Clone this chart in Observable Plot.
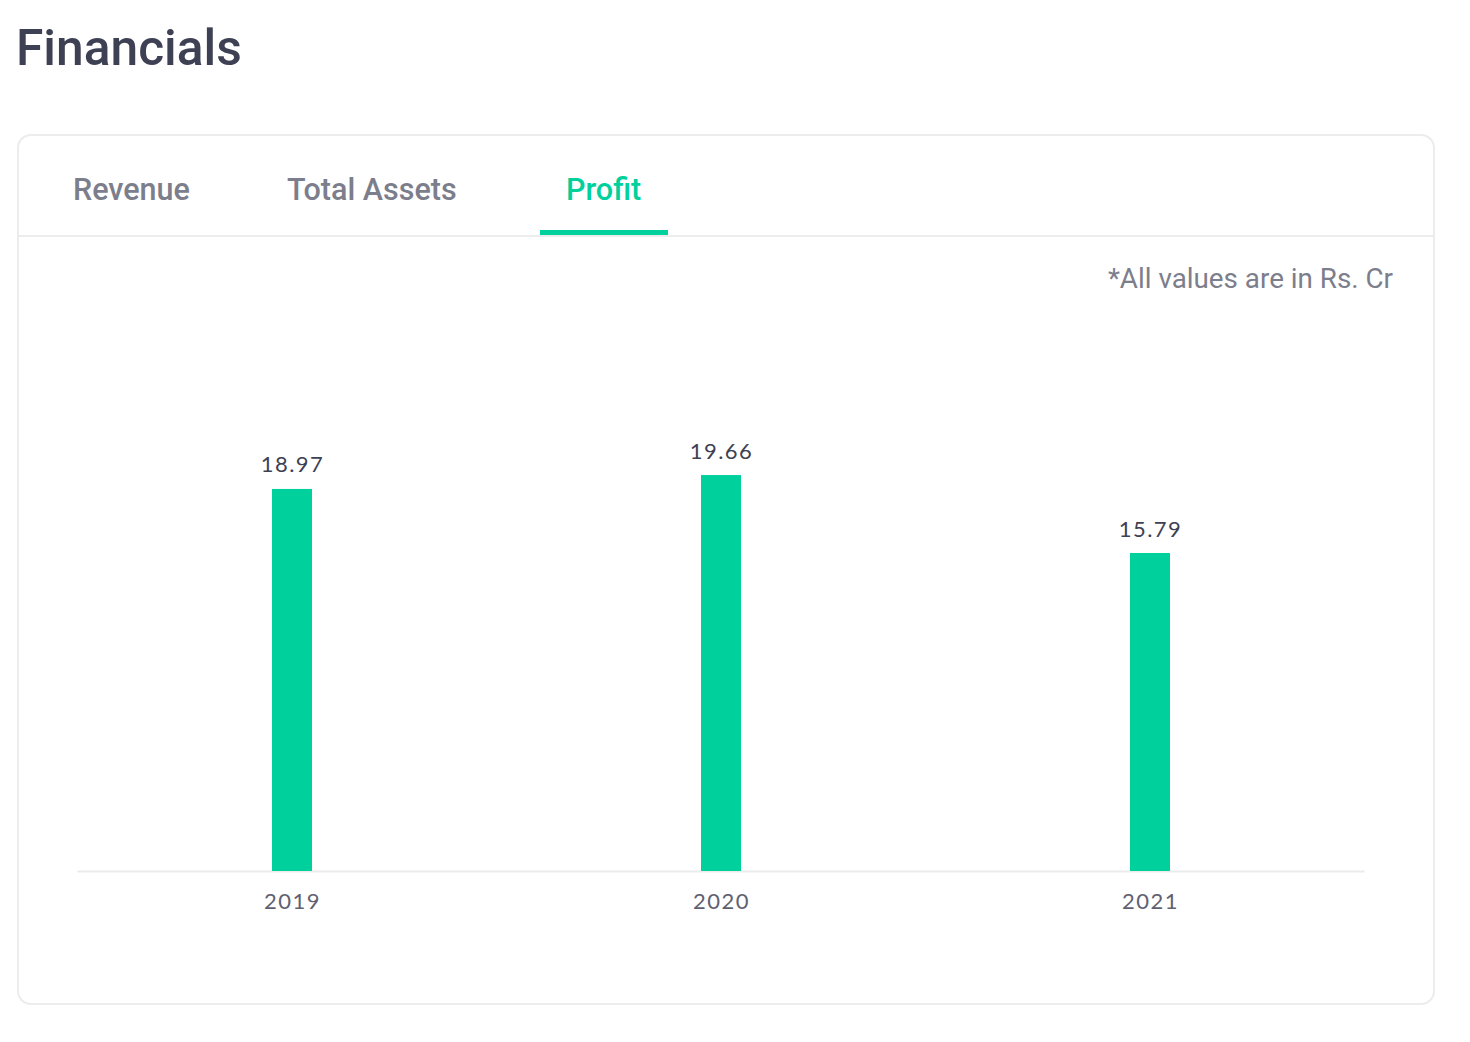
<!DOCTYPE html>
<html>
<head>
<meta charset="utf-8">
<script src="https://cdn.jsdelivr.net/npm/d3@7"></script>
<script src="https://cdn.jsdelivr.net/npm/@observablehq/plot@0.6"></script>
<style>
  html, body { margin: 0; padding: 0; background: #fff; }
  body { width: 1470px; height: 1042px; position: relative; font-family: Roboto, "Noto Sans", sans-serif; }
  #title { position: absolute; left: 16px; top: 18px; font-size: 49.7px; font-weight: 500; color: #3e4153; margin: 0; line-height: 60px; }
  #card { position: absolute; left: 17px; top: 134px; width: 1414px; height: 867px; border: 2px solid #ececec; border-radius: 14px; }
  #sep { position: absolute; left: 19px; top: 235px; width: 1414px; height: 2px; background: #ececec; }
  .tab { position: absolute; top: 170px; font-size: 30.5px; font-weight: 500; color: #7c7e8c; line-height: 40px; }
  .tab.active { color: #00d09c; }
  #underline { position: absolute; left: 540px; top: 230px; width: 128px; height: 5px; background: #00d09c; }
  #note { position: absolute; right: 77px; top: 261px; font-size: 27.8px; color: #7c7e8c; line-height: 36px; }
  #chart { position: absolute; left: 0; top: 300px; }
</style>
</head>
<body>
<h1 id="title">Financials</h1>
<div id="card"></div>
<div id="sep"></div>
<div class="tab" style="left:73px">Revenue</div>
<div class="tab" style="left:287px">Total Assets</div>
<div class="tab active" style="left:566px">Profit</div>
<div id="underline"></div>
<div id="note">*All values are in Rs. Cr</div>
<div id="chart"></div>
<script>
const years = ["2019", "2020", "2021"];
const profit = [18.97, 19.66, 15.79];

const data = years.map((y, i) => ({year: y, value: profit[i]}));

const chart = Plot.plot({
  width: 1470,
  height: 660,
  marginLeft: 77.5,
  marginRight: 105.5,
  marginTop: 67.5,
  marginBottom: 89,
  style: {fontFamily: "Lato, 'Noto Sans', sans-serif", fontSize: "22px", letterSpacing: "1.5px", background: "transparent"},
  x: {domain: years, paddingInner: 0.9068, paddingOuter: 0.4534, label: null},
  y: {domain: [0, 25], axis: null},
  marks: [
    Plot.ruleY([0], {stroke: "#ebebeb", strokeWidth: 2}),
    Plot.barY(data, {x: "year", y: "value", fill: "#00d09c"}),
    Plot.text(data, {x: "year", y: "value", text: d => d.value.toFixed(2), dy: -24, fill: "#3e4153", fontSize: 22}),
    Plot.axisX({tickSize: 0, tickPadding: 22, fontSize: 22, color: "#5f6170", label: null})
  ]
});
document.getElementById("chart").appendChild(chart);
</script>
</body>
</html>
